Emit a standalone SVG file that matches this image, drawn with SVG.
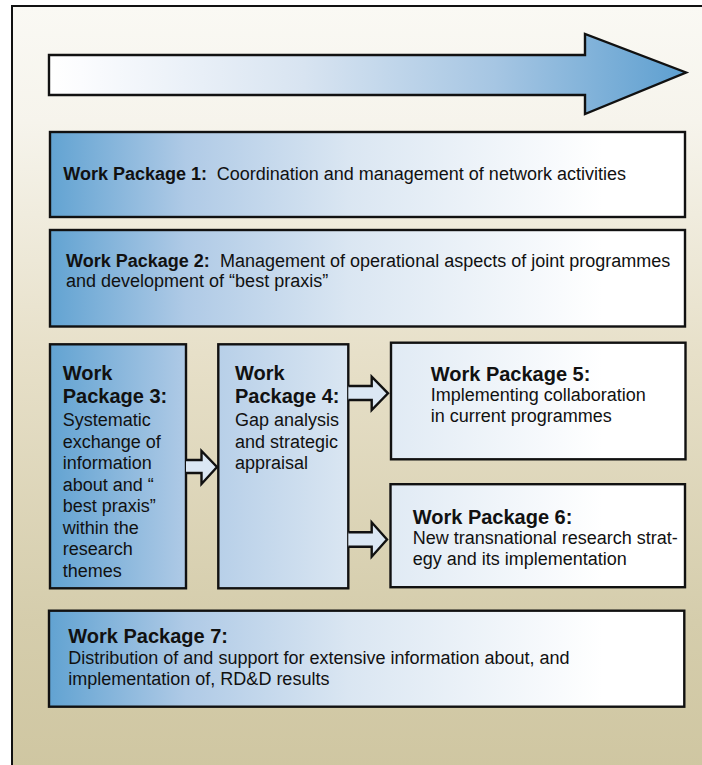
<svg xmlns="http://www.w3.org/2000/svg" width="702" height="765" viewBox="0 0 702 765">
  <defs>
    <linearGradient id="bg" x1="0" y1="0" x2="0" y2="1">
      <stop offset="0" stop-color="#faf9f4"/>
      <stop offset="0.15" stop-color="#f6f4ec"/>
      <stop offset="0.45" stop-color="#e7e0c9"/>
      <stop offset="0.8" stop-color="#d5cdac"/>
      <stop offset="1" stop-color="#cfc6a1"/>
    </linearGradient>
    <linearGradient id="timelineFill" gradientUnits="userSpaceOnUse" x1="49" y1="0" x2="686" y2="0">
      <stop offset="0" stop-color="#ffffff"/>
      <stop offset="0.05" stop-color="#fbfcfe"/>
      <stop offset="0.4" stop-color="#d8e4f1"/>
      <stop offset="0.7" stop-color="#a6c6e3"/>
      <stop offset="1" stop-color="#5d9fd0"/>
    </linearGradient>
    <linearGradient id="boxFill" gradientUnits="userSpaceOnUse" x1="50" y1="0" x2="685" y2="0">
      <stop offset="0" stop-color="#62a3d2"/>
      <stop offset="0.214" stop-color="#afcae6"/>
      <stop offset="0.47" stop-color="#dae6f2"/>
      <stop offset="0.87" stop-color="#ffffff"/>
      <stop offset="1" stop-color="#ffffff"/>
    </linearGradient>
  </defs>
  <style>
    .box { fill: url(#boxFill); stroke: #111; stroke-width: 2.4; }
    .flow { fill: #dbe7f3; stroke: #111; stroke-width: 2.4; stroke-linejoin: miter; }
    text { font-family: "Liberation Sans", Arial, Helvetica, sans-serif; fill: #111; }
    .h18 { font-size: 18px; font-weight: bold; }
    .h20 { font-size: 20px; font-weight: bold; }
    .t { font-size: 18px; }
  </style>

  <!-- page frame -->
  <rect x="12" y="6" width="700" height="770" fill="url(#bg)" stroke="#111" stroke-width="2"/>

  <!-- timeline arrow -->
  <g id="timeline">
    <polygon points="49,55 585,55 585,34 686,72.5 585,114 585,95 49,95" fill="url(#timelineFill)" stroke="#111" stroke-width="2.4" stroke-linejoin="miter"/>
  </g>

  <g id="wp1">
    <rect class="box" x="50" y="132" width="635" height="85"/>
    <text x="63.3" y="180"><tspan class="h18">Work Package 1:</tspan></text>
    <text class="t" x="216.7" y="180">Coordination and management of network activities</text>
  </g>

  <g id="wp2">
    <rect class="box" x="50" y="230" width="635" height="96.5"/>
    <text class="h18" x="66" y="266.7">Work Package 2:</text>
    <text class="t" x="220" y="266.7">Management of operational aspects of joint programmes</text>
    <text class="t" x="66" y="286.7">and development of “best praxis”</text>
  </g>

  <g id="wp3">
    <rect class="box" x="50" y="344.3" width="136" height="244"/>
    <text class="h20" x="62.7" y="380">Work</text>
    <text class="h20" x="62.7" y="403">Package 3:</text>
    <text class="t" x="62.7" y="426">Systematic</text>
    <text class="t" x="62.7" y="447.5">exchange of</text>
    <text class="t" x="62.7" y="469">information</text>
    <text class="t" x="62.7" y="490.5">about and “</text>
    <text class="t" x="62.7" y="512">best praxis”</text>
    <text class="t" x="62.7" y="533.5">within the</text>
    <text class="t" x="62.7" y="555">research</text>
    <text class="t" x="62.7" y="576.5">themes</text>
  </g>

  <g id="wp4">
    <rect class="box" x="218.3" y="344.3" width="130" height="244"/>
    <text class="h20" x="235" y="380">Work</text>
    <text class="h20" x="235" y="403">Package 4:</text>
    <text class="t" x="235" y="426">Gap analysis</text>
    <text class="t" x="235" y="447.5">and strategic</text>
    <text class="t" x="235" y="469">appraisal</text>
  </g>

  <g id="wp5">
    <rect class="box" x="391" y="342.7" width="294.5" height="116.6"/>
    <text class="h20" x="430.7" y="380.7">Work Package 5:</text>
    <text class="t" x="430.7" y="401">Implementing collaboration</text>
    <text class="t" x="430.7" y="421.7">in current programmes</text>
  </g>

  <g id="wp6">
    <rect class="box" x="390.5" y="484.2" width="294.5" height="103"/>
    <text class="h20" x="412.7" y="524.3">Work Package 6:</text>
    <text class="t" x="412.7" y="544.3">New transnational research strat-</text>
    <text class="t" x="412.7" y="565">egy and its implementation</text>
  </g>

  <g id="wp7">
    <rect class="box" x="49" y="610.7" width="635.3" height="96"/>
    <text class="h20" x="68.3" y="642.7">Work Package 7:</text>
    <text class="t" x="68.3" y="664.3">Distribution of and support for extensive information about, and</text>
    <text class="t" x="68.3" y="685">implementation of, RD&amp;D results</text>
  </g>

  <!-- block arrows between work packages -->
  <g id="connectors">
    <path class="flow" d="M186,460 H201.5 V451 L217,467 L201.5,484 V473 H186"/>
    <path class="flow" d="M348.3,386 H371.7 V376.7 L388,393.3 L371.7,410 V400 H348.3"/>
    <path class="flow" d="M348.3,532.3 H371.7 V522.3 L387,539.5 L371.7,556.7 V546.7 H348.3"/>
  </g>
</svg>
